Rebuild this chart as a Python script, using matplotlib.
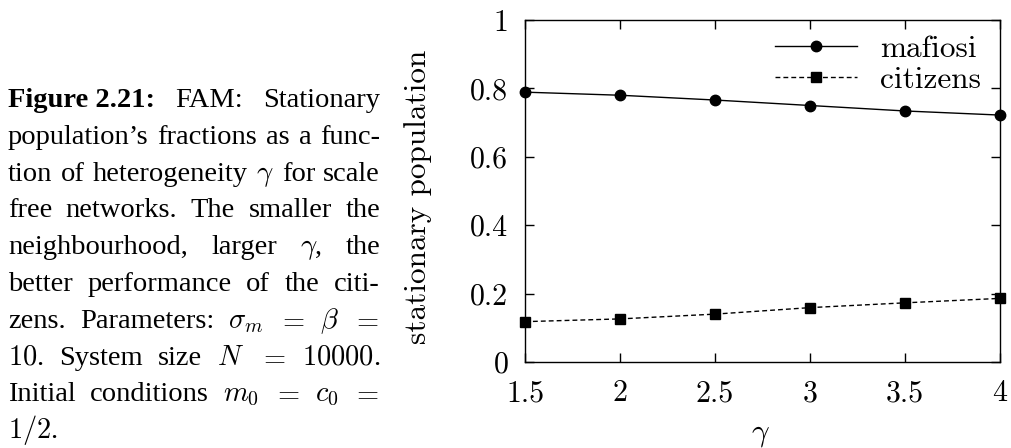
import matplotlib
matplotlib.use('Agg')
import matplotlib.pyplot as plt

# Valores
gamma = [1.5, 2.0, 2.5, 3.0, 3.5, 4.0]
mafiosi = [0.789, 0.780, 0.766, 0.750, 0.734, 0.722]
citizens = [0.118, 0.126, 0.140, 0.159, 0.173, 0.186]

xticks = [1.5, 2, 2.5, 3, 3.5, 4]
xtick_labels = ['1.5', '2', '2.5', '3', '3.5', '4']
yticks = [0, 0.2, 0.4, 0.6, 0.8, 1]
ytick_labels = ['0', '0.2', '0.4', '0.6', '0.8', '1']

# Texto del pie de figura, linea por linea (palabras)
caption_lines = [
    ['Figure 2.21:', 'FAM:', 'Stationary'],
    ['population\u2019s', 'fractions', 'as', 'a', 'func-'],
    ['tion', 'of', 'heterogeneity', r'$\gamma$', 'for', 'scale'],
    ['free', 'networks.', 'The', 'smaller', 'the'],
    ['neighbourhood,', 'larger', r'$\gamma$,', 'the'],
    ['better', 'performance', 'of', 'the', 'citi-'],
    ['zens.', 'Parameters:', r'$\sigma_m$', r'$=$', r'$\beta$', r'$=$'],
    [r'$10$.', 'System', 'size', r'$N$', r'$=$', r'$10000$.'],
    ['Initial', 'conditions', r'$m_0$', r'$=$', r'$c_0$', r'$=$'],
    [r'$1/2$.'],
]
bold_words = {'Figure 2.21:'}

plt.rcParams['mathtext.fontset'] = 'cm'
plt.rcParams['font.family'] = 'cmr10'
plt.rcParams['axes.formatter.use_mathtext'] = True

W, H = 1012, 448
fig = plt.figure(figsize=(W / 100, H / 100), dpi=100)
fig.patch.set_facecolor('white')

ax = fig.add_axes([525 / W, (H - 362) / H, 475 / W, 342 / H])

ax.plot(gamma, mafiosi, '-', color='black', lw=1.0, marker='o',
        markersize=7.5, clip_on=False, label='mafiosi', zorder=3)
ax.plot(gamma, citizens, color='black', lw=1.0, linestyle=(0, (3.5, 2.2)),
        marker='s', markersize=7.2, clip_on=False, label='citizens', zorder=3)

ax.set_xlim(1.5, 4)
ax.set_ylim(0, 1)
ax.set_xticks(xticks)
ax.set_xticklabels(xtick_labels)
ax.set_yticks(yticks)
ax.set_yticklabels(ytick_labels)

fs = 21.5
fs_lab = 22.5
ax.tick_params(direction='in', length=6.5, width=1.0, top=True, right=True,
               labelsize=fs, color='black')
ax.tick_params(axis='y', pad=12)
ax.tick_params(axis='x', pad=13)
for s in ax.spines.values():
    s.set_linewidth(1.0)

ax.set_ylabel('stationary population', fontsize=fs_lab)
ax.yaxis.set_label_coords(-0.196, 0.484)
ax.set_xlabel(r'$\gamma$', fontsize=fs_lab)
ax.xaxis.set_label_coords(0.495, -0.172)

leg = ax.legend(loc='upper left', bbox_to_anchor=(0.526, 0.955), frameon=False,
                fontsize=fs_lab, handlelength=2.62, handletextpad=0.75,
                labelspacing=0.08, borderpad=0, borderaxespad=0)

# Pie de figura justificado a la izquierda del grafico
def texto_justificado(lineas, x0, x1, y0, dy, size):
    r = fig.canvas.get_renderer()
    for i, palabras in enumerate(lineas):
        y = 1 - (y0 + i * dy) / H
        objs = []
        for p in palabras:
            t = fig.text(0, y, p, fontsize=size, family='Liberation Serif',
                         fontweight='bold' if p in bold_words else 'normal',
                         va='baseline', ha='left')
            objs.append(t)
        anchos = [t.get_window_extent(r).width for t in objs]
        if i < len(lineas) - 1 and len(objs) > 1:
            hueco = (x1 - x0 - sum(anchos)) / (len(objs) - 1)
        else:
            hueco = 0.25 * size * 100 / 72
        x = x0
        for t, w in zip(objs, anchos):
            t.set_x(x / W)
            x += w + hueco

texto_justificado(caption_lines, 8, 380, 107, 36.8, 20.5)

fig.savefig('out.png', dpi=100, facecolor='white')
